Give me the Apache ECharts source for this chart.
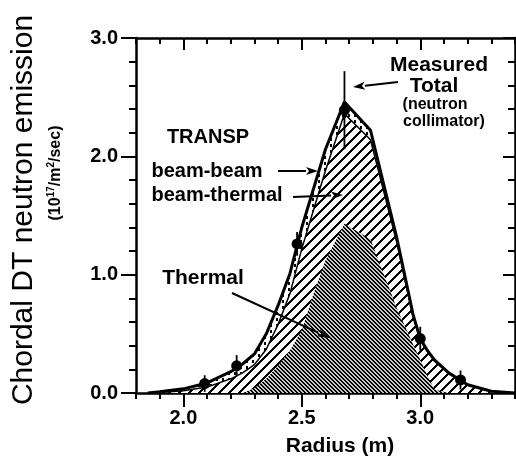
<!DOCTYPE html>
<html><head><meta charset="utf-8">
<script src="https://cdn.jsdelivr.net/npm/echarts@6/dist/echarts.min.js"></script>
<style>html,body{margin:0;padding:0;background:#fff}#c{width:516px;height:461px}</style>
</head><body><div id="c"></div>
<script>
// ---- data ----
const radius =         [1.85, 1.90, 2.00, 2.10, 2.20, 2.25, 2.30, 2.35, 2.40, 2.45, 2.50, 2.55, 2.60, 2.68, 2.79, 2.90, 2.97, 3.00, 3.03, 3.06, 3.12, 3.20, 3.30, 3.40];
const total =          [0.00, 0.01, 0.035,0.085,0.18, 0.245,0.33, 0.50, 0.74, 1.01, 1.40, 1.73, 2.06, 2.46, 2.22, 1.32, 0.66, 0.46, 0.36, 0.28, 0.17, 0.07, 0.015,0.00];
const beamThermalTop = [0.00, 0.005,0.02, 0.05, 0.12, 0.17, 0.24, 0.37, 0.58, 0.84, 1.22, 1.55, 1.88, 2.36, 2.14, 1.28, 0.64, 0.45, 0.35, 0.27, 0.165,0.07, 0.015,0.00];
const thermal =        [0.00, 0.00, 0.00, 0.00, 0.00, 0.00, 0.04, 0.12, 0.23, 0.36, 0.53, 0.84, 1.12, 1.43, 1.30, 0.72, 0.41, 0.28, 0.15, 0.03, 0.00, 0.00, 0.00, 0.00];
const measuredR =   [2.09, 2.225, 2.48, 2.68, 3.00, 3.17];
const measuredV =   [0.08, 0.23,  1.26, 2.39, 0.46, 0.11];
const measuredErr = [0.07, 0.09,  0.10, 0.33, 0.10, 0.08];
const xMajorTicks = [2.0, 2.5, 3.0];
const yMajorTicks = [0, 1, 2, 3];

const FONT = '"Liberation Sans", Arial, Helvetica, sans-serif';

function makePattern(w, h, fn) {
  const c = document.createElement('canvas');
  c.width = w; c.height = h;
  const ctx = c.getContext('2d');
  const img = ctx.createImageData(w, h);
  for (let y = 0; y < h; y++) for (let x = 0; x < w; x++) {
    const v = fn(x, y);
    const i = (y * w + x) * 4;
    img.data[i] = img.data[i + 1] = img.data[i + 2] = v; img.data[i + 3] = 255;
  }
  ctx.putImageData(img, 0, 0);
  return c;
}
const hatch = makePattern(10, 10, (x, y) => ((x + y) % 10 < 3 ? 0 : 255));
const dense = makePattern(4, 4, (x, y) => (((x - y + 8) % 4) < 2 ? 0 : 200));
const dashes = makePattern(6, 6, (x, y) => ((x % 6 < 2 && y % 6 < 3) ? 0 : 255));

const pairs = (xs, ys) => xs.map((x, i) => [x, ys[i]]);

function arrow(x1, y1, x2, y2, head, wid) {
  const a = Math.atan2(y2 - y1, x2 - x1);
  const bx = x2 - head * Math.cos(a), by = y2 - head * Math.sin(a);
  const nx = -Math.sin(a) * wid / 2, ny = Math.cos(a) * wid / 2;
  return [
    { type: 'line', silent: true, z: 100, shape: { x1, y1, x2: bx, y2: by }, style: { stroke: '#000', lineWidth: 2 } },
    { type: 'polygon', silent: true, z: 100, shape: { points: [[x2, y2], [bx + nx, by + ny], [bx + head * 0.25 * Math.cos(a), by + head * 0.25 * Math.sin(a)], [bx - nx, by - ny]] }, style: { fill: '#000' } }
  ];
}
function txt(text, x, y, size, weight, extra) {
  return Object.assign({ type: 'text', x, y, silent: true, z: 100, style: { text, font: (weight || 'bold') + ' ' + size + 'px ' + FONT, fill: '#000', align: 'center', verticalAlign: 'middle' } }, extra || {});
}

const axisLineStyle = { color: '#000', width: 2.5 };
const tickStyle = { color: '#000', width: 2 };
function xAx(pos, major, inside) {
  return {
    type: 'value', position: pos, min: 1.8, max: 3.4, interval: 0.1,
    axisLine: { show: !major, onZero: false, lineStyle: axisLineStyle },
    axisTick: major ? { customValues: xMajorTicks, inside, length: inside ? 12 : 14, lineStyle: tickStyle }
                    : { inside, length: 6, lineStyle: tickStyle },
    axisLabel: (major && pos === 'bottom') ? { customValues: xMajorTicks, formatter: v => v.toFixed(1), color: '#000', fontSize: 20, fontWeight: 'bold', fontFamily: FONT, margin: 15 } : { show: false },
    splitLine: { show: false }
  };
}
function yAx(pos, major, inside) {
  return {
    type: 'value', position: pos, min: 0, max: 3, interval: 0.2,
    axisLine: { show: !major, onZero: false, lineStyle: axisLineStyle },
    axisTick: major ? { customValues: yMajorTicks, inside, length: inside ? 12 : 15, lineStyle: tickStyle }
                    : { inside, length: 7, lineStyle: tickStyle },
    axisLabel: (major && pos === 'left') ? { customValues: yMajorTicks, formatter: v => v.toFixed(1), color: '#000', fontSize: 20, fontWeight: 'bold', fontFamily: FONT, margin: 18 } : { show: false },
    splitLine: { show: false }
  };
}

const chart = echarts.init(document.getElementById('c'), null, { renderer: 'canvas' });
chart.setOption({
  animation: false,
  backgroundColor: '#fff',
  grid: { left: 136, right: 1, top: 38, bottom: 68, containLabel: false },
  xAxis: [xAx('bottom', false, false), xAx('bottom', true, false), xAx('top', false, true), xAx('top', true, true)],
  yAxis: [yAx('left', false, false), yAx('left', true, false), yAx('right', false, true), yAx('right', true, true)],
  series: [
    { name: 'beam-beam', type: 'line', z: 1, data: pairs(radius, total), symbol: 'none', lineStyle: { width: 0 }, areaStyle: { color: { image: dashes, repeat: 'repeat' }, opacity: 1 } },
    { name: 'beam-thermal', type: 'line', z: 1, data: pairs(radius, beamThermalTop), symbol: 'none', lineStyle: { width: 0 }, areaStyle: { color: { image: hatch, repeat: 'repeat' }, opacity: 1 } },
    { name: 'Thermal', type: 'line', z: 1, data: pairs(radius, thermal), symbol: 'none', lineStyle: { width: 0 }, areaStyle: { color: { image: dense, repeat: 'repeat' }, opacity: 1 } },
    { name: 'beam-thermal line', type: 'line', z: 2, data: pairs(radius, beamThermalTop), symbol: 'none', lineStyle: { width: 1.5, color: '#000' } },
    { name: 'Total', type: 'line', z: 3, data: pairs(radius, total), symbol: 'none', lineStyle: { width: 3, color: '#000' } },
    { name: 'err', type: 'custom', z: 5, data: measuredR.map((r, i) => [r, measuredV[i], measuredErr[i]]), encode: { x: 0, y: 1 },
      renderItem: (params, api) => {
        const x = api.value(0), v = api.value(1), e = api.value(2);
        const p1 = api.coord([x, v + e]), p2 = api.coord([x, v - e]);
        return { type: 'line', shape: { x1: p1[0], y1: p1[1], x2: p2[0], y2: p2[1] }, style: { stroke: '#000', lineWidth: 1.8 } };
      } },
    { name: 'Measured', type: 'scatter', z: 6, data: pairs(measuredR, measuredV), symbol: 'circle', symbolSize: 11, itemStyle: { color: '#000', opacity: 1 } }
  ],
  graphic: [
    txt('Chordal DT neutron emission', 24, 210, 30, 'normal', { rotation: Math.PI / 2 }),
    { type: 'text', x: 56, y: 173, rotation: Math.PI / 2, silent: true, z: 100,
      style: { text: '(10{sup|17}/m{sup|2}/sec)', font: 'bold 16px ' + FONT, fill: '#000', align: 'center', verticalAlign: 'middle',
        rich: { sup: { fontSize: 10, fontWeight: 'bold', fontFamily: FONT, padding: [0, 0, 10, 0] } } } },
    txt('Radius (m)', 340, 446, 21),
    txt('TRANSP', 208, 137, 20),
    txt('beam-beam', 207, 171, 20),
    txt('beam-thermal', 217, 195, 20),
    txt('Thermal', 203, 278, 21),
    txt('Measured', 439, 65, 21),
    txt('Total', 434, 86, 21),
    txt('(neutron', 435, 105, 16),
    txt('collimator)', 444, 122, 16),
    ...arrow(278, 171, 318, 171, 12, 8),
    ...arrow(293, 197, 343, 195, 12, 8),
    ...arrow(398, 82, 353, 87, 12, 8),
    ...arrow(232, 293, 330, 338, 13, 8)
  ]
});
</script></body></html>
